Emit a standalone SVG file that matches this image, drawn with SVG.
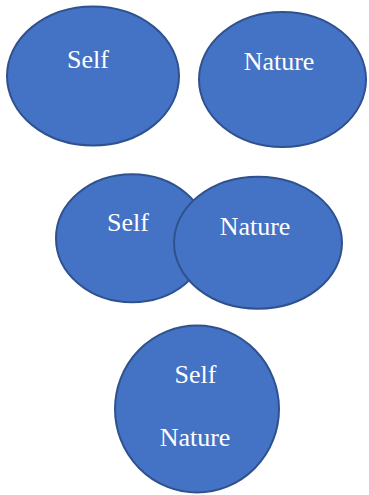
<svg xmlns="http://www.w3.org/2000/svg" width="369" height="495" viewBox="0 0 369 495">
<style>
.sh{fill:#4472C4;stroke:#2F528F;stroke-width:2}
.t{fill:#FFFFFF;font-family:"Liberation Serif","Times New Roman",serif;font-size:26px;text-anchor:middle}
</style>
<rect width="369" height="495" fill="#FFFFFF"/>
<g id="self1"><ellipse class="sh" cx="93" cy="76" rx="86" ry="69.5"/><text class="t" x="88" y="67.5">Self</text></g>
<g id="nature1"><ellipse class="sh" cx="282.5" cy="79.5" rx="83.5" ry="67.5"/><text class="t" x="279" y="69.5">Nature</text></g>
<g id="self2"><ellipse class="sh" cx="132" cy="238.3" rx="76" ry="64"/><text class="t" x="128" y="231">Self</text></g>
<g id="nature2"><ellipse class="sh" cx="258" cy="242.7" rx="84" ry="66"/><text class="t" x="255" y="235">Nature</text></g>
<g id="selfnature"><ellipse class="sh" cx="197" cy="409" rx="82" ry="83.5"/><text class="t" x="195.5" y="383">Self</text><text class="t" x="195" y="446">Nature</text></g>
<g id="connectors"/>
</svg>
